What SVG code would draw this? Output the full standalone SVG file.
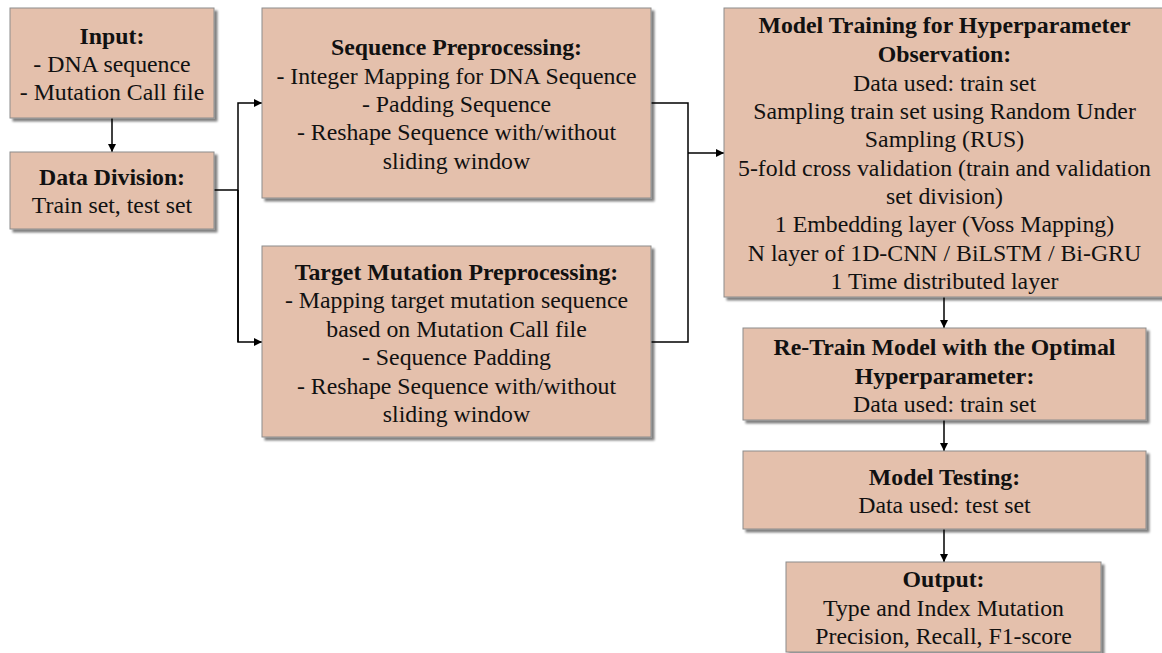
<svg xmlns="http://www.w3.org/2000/svg" width="1162" height="653" viewBox="0 0 1162 653">
  <defs>
    <filter id="shadow" x="-5%" y="-5%" width="115%" height="120%">
      <feGaussianBlur in="SourceAlpha" stdDeviation="1.2"/>
      <feOffset dx="3" dy="3" result="b"/>
      <feComponentTransfer><feFuncA type="linear" slope="0.5"/></feComponentTransfer>
      <feMerge><feMergeNode/><feMergeNode in="SourceGraphic"/></feMerge>
    </filter>
    <marker id="arrow" viewBox="0 0 10 10" refX="10" refY="5" markerWidth="8" markerHeight="8" markerUnits="userSpaceOnUse" orient="auto">
      <path d="M0,0 L10,5 L0,10 z" fill="#000"/>
    </marker>
  </defs>
  <style>
    .box { fill: #E4C0AC; stroke: #8C8C8C; stroke-width: 1; filter: url(#shadow); }
    text { font-family: "Liberation Serif", "Times New Roman", serif; font-size: 23.8px; fill: #111; text-anchor: middle; }
    .b { font-weight: bold; }
    .wire { fill: none; stroke: #000; stroke-width: 1.5; }
  </style>
  <rect width="1162" height="653" fill="#fff"/>

  <g id="connectors">
    <line class="wire" x1="112" y1="118" x2="112" y2="152" marker-end="url(#arrow)"/>
    <polyline class="wire" points="214,190 238,190"/>
    <polyline class="wire" points="238,342 238,103 262,103" marker-end="url(#arrow)"/>
    <polyline class="wire" points="238,190 238,342 262,342" marker-end="url(#arrow)"/>
    <polyline class="wire" points="651,103 688,103 688,342 651,342"/>
    <polyline class="wire" points="688,153 724,153" marker-end="url(#arrow)"/>
    <line class="wire" x1="944" y1="297" x2="944" y2="328" marker-end="url(#arrow)"/>
    <line class="wire" x1="944" y1="420" x2="944" y2="451" marker-end="url(#arrow)"/>
    <line class="wire" x1="944" y1="529" x2="944" y2="562" marker-end="url(#arrow)"/>
  </g>

  <g id="input">
    <rect class="box" x="10" y="8" width="204" height="110"/>
    <text x="112" y="43.5" class="b">Input:</text>
    <text x="112" y="72">- DNA sequence</text>
    <text x="112" y="100">- Mutation Call file</text>
  </g>

  <g id="data-division">
    <rect class="box" x="10" y="152" width="204" height="77"/>
    <text x="112" y="185" class="b">Data Division:</text>
    <text x="112" y="213">Train set, test set</text>
  </g>

  <g id="sequence-preprocessing">
    <rect class="box" x="262" y="8" width="389" height="190"/>
    <text x="456.5" y="55" class="b">Sequence Preprocessing:</text>
    <text x="456.5" y="83.5">- Integer Mapping for DNA Sequence</text>
    <text x="456.5" y="112">- Padding Sequence</text>
    <text x="456.5" y="140">- Reshape Sequence with/without</text>
    <text x="456.5" y="168.5">sliding window</text>
  </g>

  <g id="target-mutation-preprocessing">
    <rect class="box" x="262" y="246" width="389" height="191"/>
    <text x="456.5" y="279.5" class="b">Target Mutation Preprocessing:</text>
    <text x="456.5" y="308">- Mapping target mutation sequence</text>
    <text x="456.5" y="336.5">based on Mutation Call file</text>
    <text x="456.5" y="365">- Sequence Padding</text>
    <text x="456.5" y="393.5">- Reshape Sequence with/without</text>
    <text x="456.5" y="421.5">sliding window</text>
  </g>

  <g id="model-training">
    <rect class="box" x="724" y="8" width="450" height="289"/>
    <text x="944.5" y="32.5" class="b">Model Training for Hyperparameter</text>
    <text x="944.5" y="61.5" class="b">Observation:</text>
    <text x="944.5" y="90.5">Data used: train set</text>
    <text x="944.5" y="119">Sampling train set using Random Under</text>
    <text x="944.5" y="147">Sampling (RUS)</text>
    <text x="944.5" y="175.5">5-fold cross validation (train and validation</text>
    <text x="944.5" y="204">set division)</text>
    <text x="944.5" y="232">1 Embedding layer (Voss Mapping)</text>
    <text x="944.5" y="260.5">N layer of 1D-CNN / BiLSTM / Bi-GRU</text>
    <text x="944.5" y="289">1 Time distributed layer</text>
  </g>

  <g id="retrain">
    <rect class="box" x="743" y="328" width="403" height="92"/>
    <text x="944.5" y="354.5" class="b">Re-Train Model with the Optimal</text>
    <text x="944.5" y="383.5" class="b">Hyperparameter:</text>
    <text x="944.5" y="412">Data used: train set</text>
  </g>

  <g id="model-testing">
    <rect class="box" x="743" y="451" width="403" height="78"/>
    <text x="944.5" y="484.5" class="b">Model Testing:</text>
    <text x="944.5" y="513">Data used: test set</text>
  </g>

  <g id="output">
    <rect class="box" x="786" y="562" width="315" height="90"/>
    <text x="943.5" y="587" class="b">Output:</text>
    <text x="943.5" y="615.5">Type and Index Mutation</text>
    <text x="943.5" y="644">Precision, Recall, F1-score</text>
  </g>
</svg>
